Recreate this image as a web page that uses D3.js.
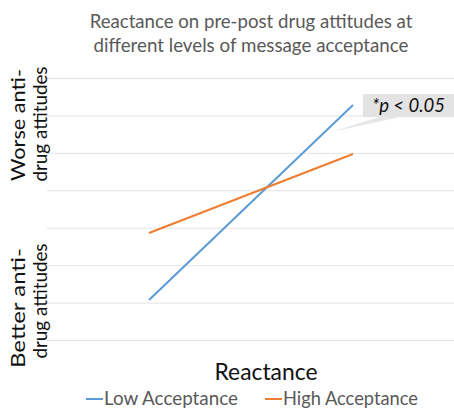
<!DOCTYPE html>
<html>
<head>
<meta charset="utf-8">
<script src="https://cdn.jsdelivr.net/npm/d3@7"></script>
<style>
  html, body { margin: 0; padding: 0; background: #fff; }
  svg { display: block; }
  text { font-family: Lato, "Open Sans", sans-serif; }
</style>
</head>
<body>
<svg id="chart" width="454" height="408"></svg>
<script>
// Reactance levels on the x axis
const categories = ["Low Reactance", "High Reactance"];
// Pre-post change in anti-drug attitudes (higher = worse)
const lowAcceptance = [1.07, 6.28];
const highAcceptance = [2.86, 4.97];
const seriesNames = ["Low Acceptance", "High Acceptance"];
const yTicks = [0, 1, 2, 3, 4, 5, 6, 7];
const titleLines = ["Reactance on pre-post drug attitudes at", "different levels of message acceptance"];
const annotationText = "*p < 0.05";

const colors = ["#5b9bd5", "#ed7d31"];
const series = [lowAcceptance, highAcceptance];

const svg = d3.select("#chart");
const margin = { left: 47, right: 455, top: 78, bottom: 340 };

const x = d3.scaleBand().domain(categories).range([margin.left, margin.right]);
const y = d3.scaleLinear().domain([0, 7]).range([margin.bottom, margin.top]);

// Shrink or grow a text's font so it spans the given width
function fit(sel, width) {
  const node = sel.node();
  const fs = parseFloat(sel.attr("font-size"));
  const w = node.getComputedTextLength();
  const size = fs * width / w;
  sel.attr("font-size", size.toFixed(2));
  return size;
}

// Horizontal gridlines
svg.append("g")
  .attr("transform", `translate(${margin.left},0)`)
  .call(d3.axisLeft(y).tickValues(yTicks).tickSize(-(margin.right - margin.left)).tickFormat(""))
  .call(g => g.select(".domain").remove())
  .call(g => g.selectAll(".tick line").attr("stroke", "#e3e3e3").attr("stroke-width", 1));

// Title
const titleG = svg.append("g").attr("fill", "#595959");
titleLines.forEach((t, i) => {
  const el = titleG.append("text")
    .attr("x", 251).attr("y", 28 + i * 24)
    .attr("text-anchor", "middle")
    .attr("font-size", 18)
    .text(t);
  fit(el, i === 0 ? 323 : 315);
});

// Interaction lines
const line = d3.line()
  .x((d, i) => x(categories[i]) + x.bandwidth() / 2)
  .y(d => y(d));

svg.append("g").selectAll("path")
  .data(series)
  .join("path")
  .attr("d", d => line(d))
  .attr("fill", "none")
  .attr("stroke", (d, i) => colors[i])
  .attr("stroke-width", 2)
  .attr("stroke-linecap", "butt");

// Callout for the significant slope
const tipX = x(categories[1]) + x.bandwidth() / 2 - 22;
const tipY = y(lowAcceptance[1]) + 27;
const callout = svg.append("g");
callout.append("path")
  .attr("d", `M383,116 L405,116 L${tipX},${tipY} Z`)
  .attr("fill", "#e6e6e6");
callout.append("rect")
  .attr("x", 363).attr("y", 94)
  .attr("width", 100).attr("height", 23)
  .attr("fill", "#e3e3e3");
const note = callout.append("text")
  .attr("x", 372).attr("y", 112)
  .attr("font-size", 18)
  .attr("font-style", "italic")
  .attr("fill", "#111")
  .text(annotationText);
fit(note, 73);

// Y-axis end labels: one glyph height, each line condensed to its length
const yLabels = [
  { lines: ["Worse anti-", "drug attitudes"], cy: [125, 124], len: [112, 115] },
  { lines: ["Better anti-", "drug attitudes"], cy: [308, 301], len: [120, 115] }
];
yLabels.forEach(lb => {
  lb.lines.forEach((t, i) => {
    svg.append("text")
      .attr("transform", `translate(${25 + i * 22},${lb.cy[i]}) rotate(-90)`)
      .attr("text-anchor", "middle")
      .attr("font-size", 19)
      .attr("textLength", lb.len[i])
      .attr("lengthAdjust", "spacingAndGlyphs")
      .attr("fill", "#111")
      .text(t);
  });
});

// X-axis title
const xt = svg.append("text")
  .attr("x", 266).attr("y", 380)
  .attr("text-anchor", "middle")
  .attr("font-size", 25)
  .attr("fill", "#111")
  .text("Reactance");
fit(xt, 103);

// Legend
const legendX = [86, 265];
const legend = svg.append("g");
seriesNames.forEach((name, i) => {
  legend.append("line")
    .attr("x1", legendX[i]).attr("x2", legendX[i] + 17)
    .attr("y1", 399).attr("y2", 399)
    .attr("stroke", colors[i]).attr("stroke-width", 2);
  const el = legend.append("text")
    .attr("x", legendX[i] + 18).attr("y", 405)
    .attr("font-size", 18)
    .attr("fill", "#595959")
    .text(name);
  fit(el, i === 0 ? 134 : 135);
});
</script>
</body>
</html>
